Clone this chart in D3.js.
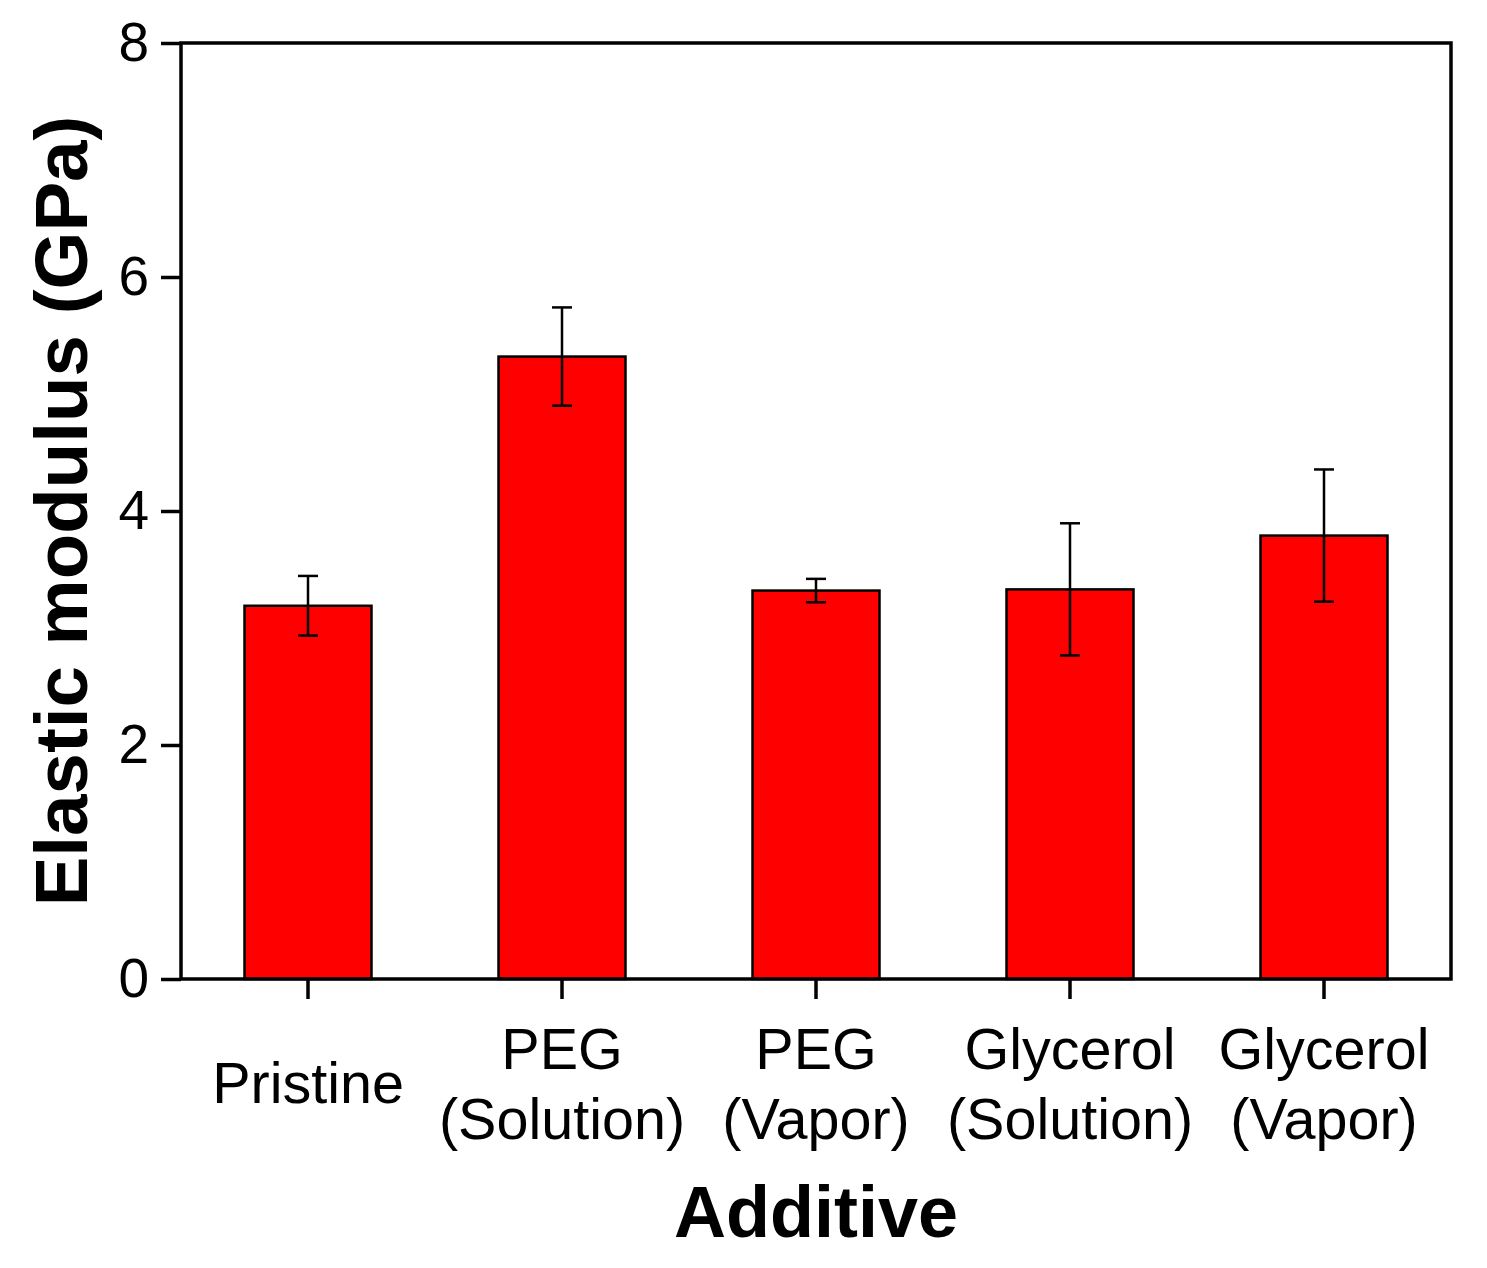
<!DOCTYPE html>
<html>
<head>
<meta charset="utf-8">
<script src="https://cdn.jsdelivr.net/npm/d3@7"></script>
<style>
  body { margin: 0; background: #fff; }
  svg { display: block; font-family: Arial, "Liberation Sans", sans-serif; }
</style>
</head>
<body>
<div id="chart"></div>
<script>
// values
const categories = ['Pristine', 'PEG (Solution)', 'PEG (Vapor)', 'Glycerol (Solution)', 'Glycerol (Vapor)'];
const labelLines = [['Pristine'], ['PEG', '(Solution)'], ['PEG', '(Vapor)'], ['Glycerol', '(Solution)'], ['Glycerol', '(Vapor)']];
const modulus = [3.19, 5.32, 3.32, 3.33, 3.79];
const modulusErr = [0.255, 0.42, 0.10, 0.565, 0.565];
const yTicks = [0, 2, 4, 6, 8];

const width = 1487, height = 1268;
const margin = { top: 43, right: 36, bottom: 289, left: 181 };

const svg = d3.select('#chart').append('svg')
  .attr('width', width)
  .attr('height', height);

const x = d3.scaleBand()
  .domain(categories)
  .range([margin.left, width - margin.right])
  .paddingInner(0.5)
  .paddingOuter(0.25);

const y = d3.scaleLinear()
  .domain([0, 8])
  .range([height - margin.bottom, margin.top]);

// bars
svg.selectAll('rect.bar')
  .data(categories)
  .enter().append('rect')
  .attr('class', 'bar')
  .attr('x', d => x(d))
  .attr('y', (d, i) => y(modulus[i]))
  .attr('width', x.bandwidth())
  .attr('height', (d, i) => y(0) - y(modulus[i]))
  .attr('fill', '#ff0000')
  .attr('stroke', '#000')
  .attr('stroke-width', 2.5);

// error bars
const capHalf = 10;
const err = svg.append('g').attr('stroke', '#000').attr('stroke-width', 2.5);
categories.forEach((c, i) => {
  const cx = x(c) + x.bandwidth() / 2;
  const hi = y(modulus[i] + modulusErr[i]);
  const lo = y(modulus[i] - modulusErr[i]);
  err.append('line').attr('x1', cx).attr('x2', cx).attr('y1', hi).attr('y2', lo);
  err.append('line').attr('x1', cx - capHalf).attr('x2', cx + capHalf).attr('y1', hi).attr('y2', hi);
  err.append('line').attr('x1', cx - capHalf).attr('x2', cx + capHalf).attr('y1', lo).attr('y2', lo);
});

// frame
svg.append('rect')
  .attr('x', margin.left)
  .attr('y', margin.top)
  .attr('width', width - margin.right - margin.left)
  .attr('height', height - margin.bottom - margin.top)
  .attr('fill', 'none')
  .attr('stroke', '#000')
  .attr('stroke-width', 3.5);

// y axis
const yAxis = svg.append('g')
  .attr('transform', `translate(${margin.left},0)`)
  .call(d3.axisLeft(y).tickValues(yTicks).tickSize(20).tickPadding(12).tickFormat(d3.format('d')));
yAxis.select('.domain').remove();
yAxis.selectAll('line').attr('stroke-width', 3.5);
yAxis.selectAll('text')
  .attr('font-size', 55)
  .attr('font-family', 'Arial, "Liberation Sans", sans-serif')
  .attr('fill', '#000');

// x axis ticks
const xAxis = svg.append('g')
  .attr('transform', `translate(0,${y(0)})`)
  .call(d3.axisBottom(x).tickSize(20).tickFormat(''));
xAxis.select('.domain').remove();
xAxis.selectAll('line').attr('stroke-width', 3.5);

// category labels (one or two lines)
const catLabels = svg.append('g')
  .attr('font-size', 57.5)
  .attr('text-anchor', 'middle')
  .attr('fill', '#000');
categories.forEach((c, i) => {
  const cx = x(c) + x.bandwidth() / 2;
  const lines = labelLines[i];
  const t = catLabels.append('text');
  if (lines.length === 1) {
    t.append('tspan').attr('x', cx).attr('y', 1103).text(lines[0]);
  } else {
    t.append('tspan').attr('x', cx).attr('y', 1069).text(lines[0]);
    t.append('tspan').attr('x', cx).attr('y', 1139).text(lines[1]);
  }
});

// axis titles
svg.append('text')
  .attr('x', (margin.left + width - margin.right) / 2)
  .attr('y', 1237)
  .attr('text-anchor', 'middle')
  .attr('font-size', 72)
  .attr('font-weight', 'bold')
  .text('Additive');

svg.append('text')
  .attr('transform', `translate(87,${(y(0) + y(8)) / 2}) rotate(-90)`)
  .attr('text-anchor', 'middle')
  .attr('font-size', 74.5)
  .attr('font-weight', 'bold')
  .text('Elastic modulus (GPa)');
</script>
</body>
</html>
